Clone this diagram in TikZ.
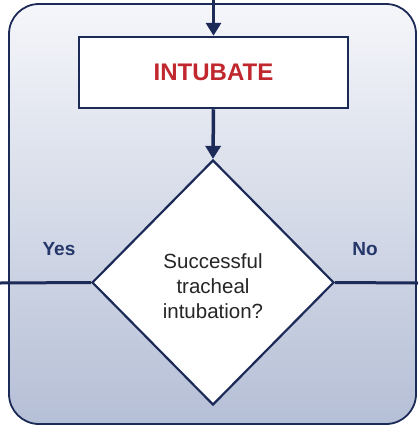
\documentclass[tikz,border=0pt]{standalone}
\usepackage{fontspec}
\setmainfont{Liberation Sans}
\usetikzlibrary{shapes.geometric,arrows.meta}
\definecolor{navy}{HTML}{1C2A58}
\definecolor{labelnavy}{HTML}{24366A}
\definecolor{alertred}{HTML}{C0282E}
\definecolor{paneltop}{HTML}{F5F6FA}
\definecolor{panelbottom}{HTML}{B5BFD6}
\tikzset{
  panel/.style={draw=navy, line width=1.8pt, rounded corners=30pt,
    top color=paneltop, bottom color=panelbottom},
  actionbox/.style={draw=navy, line width=2.5pt, fill=white, rectangle,
    minimum width=269pt, minimum height=71pt, inner sep=0pt,
    font=\fontsize{24}{28}\selectfont\bfseries, text=alertred},
  decision/.style={draw=navy, line width=2.2pt, fill=white, diamond,
    minimum width=242pt, minimum height=245pt, inner sep=0pt},
  question/.style={align=center, font=\fontsize{20.5}{25}\selectfont,
    text=black!85, inner sep=0pt},
  flowarrow/.style={draw=navy, line width=3.5pt,
    -{Triangle[length=13pt,width=15pt]}},
  branch/.style={draw=navy, line width=3pt},
  answer/.style={font=\fontsize{19}{22}\selectfont\bfseries, text=labelnavy}
}
\begin{document}
\begin{tikzpicture}[x=1pt,y=-1pt]
  \useasboundingbox (0,0) rectangle (418,426);
  % background panel
  \path[panel] (9,4) rectangle (416,424);
  % process box and decision
  \node[actionbox] (intubate) at (213.5,72.5) {INTUBATE};
  \node[decision] (success) at (213,282.5) {};
  \node[question] (ask) at (213,286.5) {Successful\\tracheal\\intubation?};
  % connector ends at the picture edges
  \coordinate (entry) at (213.5,0);
  \coordinate (yesend) at (0,283);
  \coordinate (noend) at (418,283);
  % connectors
  \draw[flowarrow] (entry) -- (intubate.north);
  \draw[flowarrow] (intubate.south) -- (success.north);
  \draw[branch] (success.west) -- (yesend);
  \draw[branch] (success.east) -- (noend);
  % branch labels
  \node[answer] (yes) at (59,249) {Yes};
  \node[answer] (no) at (365,249) {No};
\end{tikzpicture}
\end{document}
